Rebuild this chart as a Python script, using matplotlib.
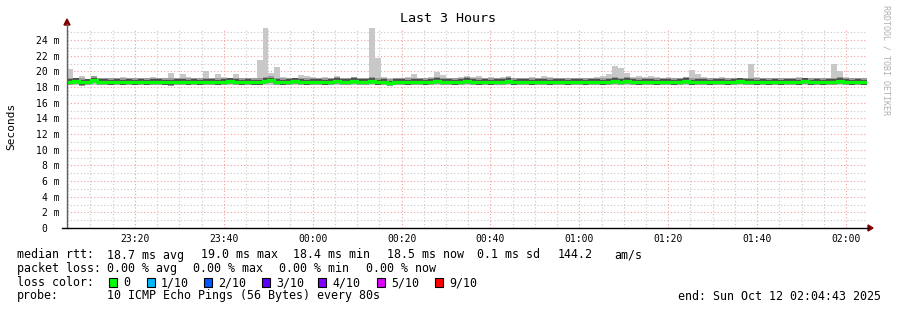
import numpy as np
import matplotlib
matplotlib.use("Agg")
import matplotlib.pyplot as plt
from matplotlib.patches import Rectangle, Polygon
from matplotlib.lines import Line2D

plt.rcParams["font.family"] = ["DejaVu Sans Mono"]

# smokeping data, 135 bins of 80 s, values in ms
med_rtt = [
    18.7, 18.8, 18.6, 18.7, 18.9, 18.7, 18.7, 18.6, 18.7, 18.6,
    18.7, 18.6, 18.7, 18.6, 18.7, 18.7, 18.6, 18.6, 18.7, 18.7,
    18.6, 18.7, 18.6, 18.7, 18.7, 18.6, 18.7, 18.8, 18.7, 18.6,
    18.7, 18.6, 18.6, 18.8, 18.9, 18.7, 18.6, 18.7, 18.8, 18.7,
    18.6, 18.7, 18.7, 18.6, 18.7, 18.8, 18.7, 18.7, 18.8, 18.7,
    18.7, 18.8, 18.6, 18.7, 18.5, 18.7, 18.7, 18.6, 18.7, 18.7,
    18.6, 18.7, 18.8, 18.7, 18.7, 18.6, 18.7, 18.8, 18.7, 18.6,
    18.7, 18.6, 18.7, 18.7, 18.8, 18.6, 18.7, 18.7, 18.6, 18.7,
    18.7, 18.6, 18.7, 18.7, 18.6, 18.7, 18.7, 18.6, 18.7, 18.7,
    18.6, 18.7, 18.8, 18.7, 18.8, 18.7, 18.6, 18.7, 18.7, 18.6,
    18.7, 18.7, 18.6, 18.7, 18.8, 18.6, 18.7, 18.7, 18.6, 18.7,
    18.7, 18.6, 18.7, 18.8, 18.7, 18.7, 18.6, 18.7, 18.6, 18.7,
    18.6, 18.7, 18.7, 18.6, 18.8, 18.6, 18.7, 18.6, 18.7, 18.7,
    18.8, 18.7, 18.6, 18.7, 18.6,
]
max_rtt = [
    20.3, 19.2, 19.4, 19.0, 19.4, 19.2, 19.1, 19.2, 19.1, 19.3,
    19.1, 19.2, 19.2, 19.1, 19.3, 19.1, 19.2, 19.8, 19.2, 19.6,
    19.3, 19.2, 19.1, 20.1, 19.2, 19.6, 19.3, 19.2, 19.6, 19.2,
    19.1, 19.2, 21.4, 25.5, 19.8, 20.6, 19.3, 19.2, 19.1, 19.5,
    19.4, 19.3, 19.2, 19.3, 19.1, 19.4, 19.2, 19.2, 19.3, 19.2,
    19.2, 25.5, 21.7, 19.3, 19.2, 19.1, 19.2, 19.3, 19.7, 19.2,
    19.1, 19.3, 19.9, 19.5, 19.2, 19.2, 19.3, 19.4, 19.3, 19.4,
    19.2, 19.3, 19.1, 19.3, 19.4, 19.2, 19.1, 19.2, 19.3, 19.2,
    19.4, 19.3, 19.1, 19.2, 19.1, 19.2, 19.1, 19.2, 19.1, 19.3,
    19.4, 19.6, 20.7, 20.4, 19.8, 19.3, 19.4, 19.3, 19.4, 19.3,
    19.2, 19.3, 19.1, 19.2, 19.3, 20.2, 19.7, 19.3, 19.2, 19.1,
    19.3, 19.2, 19.1, 19.2, 19.2, 21.0, 19.3, 19.2, 19.2, 19.1,
    19.2, 19.1, 19.2, 19.3, 19.2, 19.1, 19.2, 19.1, 19.2, 21.0,
    20.0, 19.3, 19.2, 19.1, 19.2,
]
min_rtt = [
    18.2, 18.3, 18.1, 18.3, 18.2, 18.3, 18.3, 18.2, 18.3, 18.2,
    18.3, 18.2, 18.2, 18.3, 18.3, 18.2, 18.3, 18.1, 18.3, 18.2,
    18.3, 18.3, 18.2, 18.2, 18.3, 18.2, 18.3, 18.2, 18.3, 18.3,
    18.2, 18.2, 18.3, 18.3, 18.2, 18.3, 18.3, 18.2, 18.2, 18.3,
    18.2, 18.3, 18.2, 18.3, 18.2, 18.3, 18.2, 18.3, 18.3, 18.3,
    18.2, 18.3, 18.3, 18.2, 18.1, 18.2, 18.3, 18.2, 18.3, 18.2,
    18.3, 18.2, 18.3, 18.2, 18.2, 18.3, 18.2, 18.3, 18.2, 18.3,
    18.2, 18.3, 18.2, 18.3, 18.3, 18.2, 18.2, 18.3, 18.3, 18.2,
    18.2, 18.3, 18.2, 18.3, 18.2, 18.3, 18.2, 18.2, 18.3, 18.3,
    18.2, 18.3, 18.2, 18.2, 18.3, 18.3, 18.2, 18.3, 18.3, 18.2,
    18.3, 18.2, 18.3, 18.3, 18.2, 18.2, 18.2, 18.3, 18.3, 18.2,
    18.3, 18.3, 18.2, 18.3, 18.2, 18.3, 18.3, 18.2, 18.2, 18.2,
    18.3, 18.2, 18.3, 18.3, 18.2, 18.2, 18.3, 18.3, 18.2, 18.3,
    18.2, 18.2, 18.3, 18.2, 18.3,
]
time_labels = ["23:20", "23:40", "00:00", "00:20", "00:40", "01:00", "01:20", "01:40", "02:00"]
time_ticks = [20, 40, 60, 80, 100, 120, 140, 160, 180]  # minutes after 23:00
loss_labels = ["0", "1/10", "2/10", "3/10", "4/10", "5/10", "9/10"]
loss_colors = ["#00ff00", "#00b8ff", "#0059ff", "#5e00ff", "#7e00ff", "#dd00ff", "#ff0000"]

W, H = 897, 310
fig = plt.figure(figsize=(W / 100, H / 100), dpi=100)
fig.patch.set_facecolor("white")

def fx(px):
    return px / W

def fy(py):
    return 1 - py / H

ax = fig.add_axes([fx(67), fy(228), fx(800), (228 - 27.5) / H])
t0 = 4 + 43 / 60
ax.set_xlim(t0, t0 + 180)
ax.set_ylim(0, 25.6)
for s in ax.spines.values():
    s.set_visible(False)

# grid
for v in np.arange(1, 26, 1):
    if v % 2:
        ax.axhline(v, color="#c8c8c8", lw=0.8, ls=(0, (1, 2)), zorder=0)
    else:
        ax.axhline(v, color="#f0a0a0", lw=0.8, ls=(0, (1, 2)), zorder=0)
for m in np.arange(5, 186, 5):
    if m % 20 == 0:
        ax.axvline(m, color="#f0a0a0", lw=0.8, ls=(0, (1, 2)), zorder=0)
    else:
        ax.axvline(m, color="#c8c8c8", lw=0.8, ls=(0, (1, 2)), zorder=0)

n = len(med_rtt)
step = 180 / n
x = t0 + np.arange(n) * step
med = np.array(med_rtt)
lo = np.array(min_rtt)
hi = np.array(max_rtt)

# smoke
ax.bar(x, hi - lo, bottom=lo, width=step, align="edge", color="#c8c8c8", lw=0, zorder=1)
b1 = np.maximum(med - 0.45, lo)
t1 = np.minimum(med + 0.5, hi)
ax.bar(x, t1 - b1, bottom=b1, width=step, align="edge", color="#9a9a9a", lw=0, zorder=2)
ax.bar(x, 0.6, bottom=med - 0.3, width=step, align="edge", color="#505050", lw=0, zorder=3)

# median line
edges = np.append(x, x[-1] + step)
ax.stairs(med, edges, baseline=None, color="#00ff00", lw=2.3, zorder=4)

# ticks
yt = list(range(0, 25, 2))
ax.set_yticks(yt)
ax.set_yticklabels(["0  "] + [f"{v} m" for v in yt[1:]])
ax.set_xticks(time_ticks)
ax.set_xticklabels(time_labels)
ax.tick_params(axis="both", length=0, labelsize=7, colors="black")
ax.tick_params(axis="y", pad=5.5)
ax.tick_params(axis="x", pad=4.5)

# axes lines and arrows
fig.add_artist(Line2D([fx(67), fx(67)], [fy(228), fy(24)], color="#606060", lw=1))
fig.add_artist(Line2D([fx(62), fx(868)], [fy(228), fy(228)], color="black", lw=1))
fig.add_artist(Polygon([[fx(64), fy(25)], [fx(70), fy(25)], [fx(67), fy(19)]],
                       closed=True, color="#800000", transform=fig.transFigure))
fig.add_artist(Polygon([[fx(868), fy(225)], [fx(868), fy(231)], [fx(873), fy(228)]],
                       closed=True, color="#800000", transform=fig.transFigure))

fig.text(fx(448), fy(19), "Last 3 Hours", ha="center", va="center", fontsize=9.6)
fig.text(fx(11), fy(126), "Seconds", rotation=90, ha="center", va="center", fontsize=8)
fig.text(fx(886), fy(5), "RRDTOOL / TOBI OETIKER", rotation=-90, ha="center", va="top",
         fontsize=6, color="#b0b0b0")

fs = 8.4
def txt(px, py, s):
    fig.text(fx(px), fy(py), s, ha="left", va="center", fontsize=fs)

y1, y2, y3, y4 = 255, 268.5, 282.5, 296
txt(16.7, y1, "median rtt:")
for px, s in [(107.3, "18.7 ms avg"), (201, "19.0 ms max"), (293.3, "18.4 ms min"),
              (386.7, "18.5 ms now"), (476.7, "0.1 ms sd"), (558, "144.2"), (614, "am/s")]:
    txt(px, y1, s)
txt(16.7, y2, "packet loss:")
for px, s in [(107.3, "0.00 % avg"), (193.3, "0.00 % max"), (279.3, "0.00 % min"),
              (365.7, "0.00 % now")]:
    txt(px, y2, s)
txt(16.7, y3, "loss color:")
box_x = [109, 147, 204, 262, 318, 377, 435]
for bx, lab, col in zip(box_x, loss_labels, loss_colors):
    fig.add_artist(Rectangle((fx(bx), fy(y3 + 4.5)), fx(8), 9 / H, facecolor=col,
                             edgecolor="black", lw=0.8, transform=fig.transFigure))
    txt(bx + 14, y3, lab)
txt(16.7, y4, "probe:")
txt(107.3, y4, "10 ICMP Echo Pings (56 Bytes) every 80s")
txt(677.7, y4, "end: Sun Oct 12 02:04:43 2025")

fig.savefig("out.png", dpi=100, facecolor="white")
